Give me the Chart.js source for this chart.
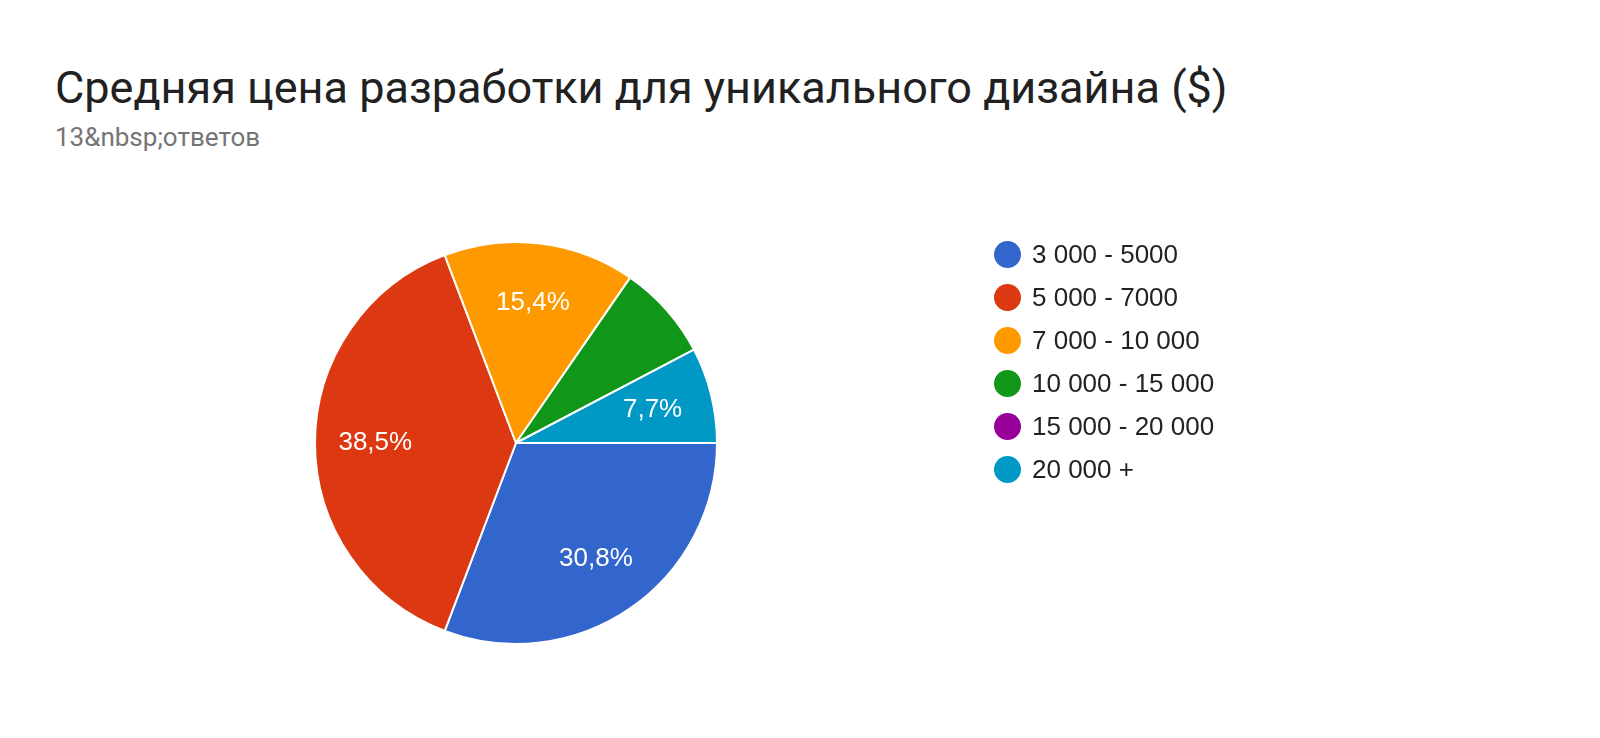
<!DOCTYPE html>
<html><head><meta charset="utf-8">
<script src="https://cdn.jsdelivr.net/npm/chart.js@4"></script>
<style>
body{margin:0;width:1600px;height:738px;background:#fff;font-family:Roboto,sans-serif;position:relative;overflow:hidden}
#t{position:absolute;left:55px;top:60px;font-size:45px;line-height:56px;color:#212121}
#s{position:absolute;left:55px;top:120px;font-size:26px;line-height:34px;color:#757575}
#c{position:absolute;left:0;top:0}
#lg{position:absolute;left:994px;top:233px;font-family:Arial,"Liberation Sans",sans-serif;font-size:26px;color:#222}
.it{height:43px;display:flex;align-items:center}
.dot{width:27px;height:27px;border-radius:50%;margin-right:11px}
</style></head><body>
<div id="t">Средняя цена разработки для уникального дизайна ($)</div>
<div id="s">13&amp;nbsp;ответов</div>
<canvas id="c" width="1600" height="738"></canvas>
<div id="lg"></div>
<script>
const categories=["3 000 - 5000","5 000 - 7000","7 000 - 10 000","10 000 - 15 000","15 000 - 20 000","20 000 +"];
const counts=[4,5,2,1,0,1];
const labels=["30,8%","38,5%","15,4%","","","7,7%"];
const colors=["#3366cc","#dc3912","#ff9900","#109618","#990099","#0099c6"];
const lg=document.getElementById('lg');
categories.forEach((c,i)=>{lg.innerHTML+=`<div class="it"><div class="dot" style="background:${colors[i]}"></div>${c}</div>`;});
const lbl={id:'lbl',afterDatasetsDraw(ch){const ctx=ch.ctx;ch.getDatasetMeta(0).data.forEach((a,i)=>{if(!labels[i])return;const m=(a.startAngle+a.endAngle)/2,r=a.outerRadius*0.7;ctx.save();ctx.fillStyle='#fff';ctx.font='26px Arial, "Liberation Sans", sans-serif';ctx.textAlign='center';ctx.textBaseline='middle';ctx.fillText(labels[i],a.x+Math.cos(m)*r,a.y+Math.sin(m)*r);ctx.restore();});}};
new Chart(document.getElementById('c'),{type:'pie',data:{labels:categories,datasets:[{data:counts,backgroundColor:colors,borderColor:'#fff',borderWidth:2}]},
options:{responsive:false,animation:false,rotation:90,layout:{padding:{left:314,top:241,right:882,bottom:93}},plugins:{legend:{display:false},tooltip:{enabled:false}}},plugins:[lbl]});
</script></body></html>
